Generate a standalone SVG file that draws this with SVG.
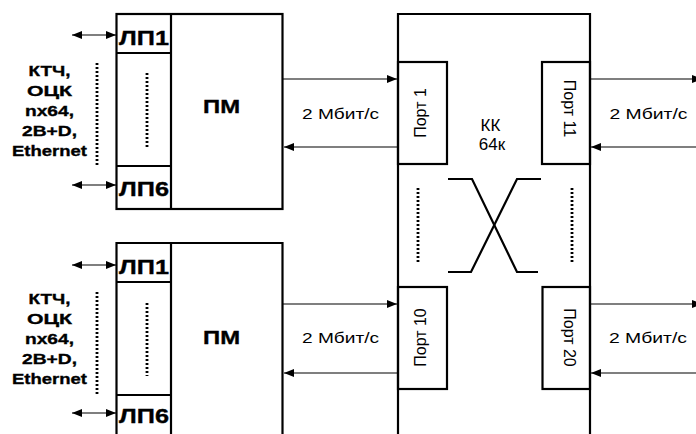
<svg xmlns="http://www.w3.org/2000/svg" width="696" height="434" viewBox="0 0 696 434">
<defs>
<marker id="ah" markerUnits="userSpaceOnUse" markerWidth="12" markerHeight="9" refX="10" refY="4" orient="auto-start-reverse">
<path d="M0,0 L10,4 L0,8 z" fill="#000"/>
</marker>
<style>
.box{fill:none;stroke:#000;stroke-width:2.2}
.ln{fill:none;stroke:#000;stroke-width:2.2}
.dot{fill:none;stroke:#000;stroke-width:2.8;stroke-dasharray:2 2}
.ar{fill:none;stroke:#000;stroke-width:1.2}
.cr{fill:none;stroke:#000;stroke-width:2.2}
.b{font-family:"Liberation Sans",Arial,sans-serif;font-weight:bold;fill:#000;stroke:#000;stroke-width:0.35}
.r{font-family:"Liberation Sans",Arial,sans-serif;fill:#000}
</style>
</defs>
<rect width="696" height="434" fill="#fff"/>

<g id="pm-top">
<rect class="box" x="116.5" y="14" width="166" height="195"/>
<line class="ln" x1="171" y1="14" x2="171" y2="209"/>
<line class="ln" x1="116.5" y1="53" x2="171" y2="53"/>
<line class="ln" x1="116.5" y1="166" x2="171" y2="166"/>
<line class="dot" x1="147" y1="73" x2="147" y2="149"/>
<text class="b" x="119" y="45" font-size="21" textLength="50" lengthAdjust="spacingAndGlyphs">ЛП1</text>
<text class="b" x="119" y="196" font-size="21" textLength="50" lengthAdjust="spacingAndGlyphs">ЛП6</text>
<text class="b" x="221.5" y="113" font-size="18" text-anchor="middle" textLength="37" lengthAdjust="spacingAndGlyphs">ПМ</text>
</g>

<g id="pm-bottom">
<path class="box" d="M116.5,440 V243 H282.5 V440"/>
<line class="ln" x1="171" y1="243" x2="171" y2="440"/>
<line class="ln" x1="116.5" y1="282" x2="171" y2="282"/>
<line class="ln" x1="116.5" y1="395" x2="171" y2="395"/>
<line class="dot" x1="147" y1="303" x2="147" y2="376"/>
<text class="b" x="119" y="274" font-size="21" textLength="50" lengthAdjust="spacingAndGlyphs">ЛП1</text>
<text class="b" x="119" y="423" font-size="21" textLength="50" lengthAdjust="spacingAndGlyphs">ЛП6</text>
<text class="b" x="221.5" y="344" font-size="18" text-anchor="middle" textLength="37" lengthAdjust="spacingAndGlyphs">ПМ</text>
</g>

<g id="interfaces-top">
<line class="dot" x1="97" y1="63" x2="97" y2="167"/>
<text class="b" x="49.5" y="76" font-size="15.5" text-anchor="middle" textLength="42" lengthAdjust="spacingAndGlyphs">КТЧ,</text>
<text class="b" x="49.5" y="96" font-size="15.5" text-anchor="middle" textLength="45" lengthAdjust="spacingAndGlyphs">ОЦК</text>
<text class="b" x="49.5" y="116" font-size="15.5" text-anchor="middle" textLength="49" lengthAdjust="spacingAndGlyphs">nx64,</text>
<text class="b" x="49.5" y="136" font-size="15.5" text-anchor="middle" textLength="55" lengthAdjust="spacingAndGlyphs">2B+D,</text>
<text class="b" x="49.5" y="156" font-size="15.5" text-anchor="middle" textLength="75" lengthAdjust="spacingAndGlyphs">Ethernet</text>
</g>

<g id="interfaces-bottom">
<line class="dot" x1="97" y1="292" x2="97" y2="396"/>
<text class="b" x="49.5" y="304" font-size="15.5" text-anchor="middle" textLength="42" lengthAdjust="spacingAndGlyphs">КТЧ,</text>
<text class="b" x="49.5" y="324" font-size="15.5" text-anchor="middle" textLength="45" lengthAdjust="spacingAndGlyphs">ОЦК</text>
<text class="b" x="49.5" y="344" font-size="15.5" text-anchor="middle" textLength="49" lengthAdjust="spacingAndGlyphs">nx64,</text>
<text class="b" x="49.5" y="364" font-size="15.5" text-anchor="middle" textLength="55" lengthAdjust="spacingAndGlyphs">2B+D,</text>
<text class="b" x="49.5" y="384" font-size="15.5" text-anchor="middle" textLength="75" lengthAdjust="spacingAndGlyphs">Ethernet</text>
</g>

<g id="kk">
<path class="box" d="M398,440 V14 H590 V440"/>
<line class="dot" x1="418" y1="188" x2="418" y2="263"/>
<line class="dot" x1="572" y1="188" x2="572" y2="263"/>
<path class="cr" d="M448,179 H472 L517,272 H538"/>
<path class="cr" d="M541,179 H517 L471,272 H448"/>
<text class="r" x="490.5" y="131" font-size="17" text-anchor="middle">КК</text>
<text class="r" x="492" y="150" font-size="17" text-anchor="middle">64к</text>
</g>

<g id="port1">
<rect class="box" x="398" y="62" width="49" height="102" fill="#fff"/>
<text class="r" font-size="16" text-anchor="middle" transform="translate(426,113) rotate(-90)">Порт 1</text>
</g>
<g id="port11">
<rect class="box" x="542" y="62" width="48" height="102" fill="#fff"/>
<text class="r" font-size="16" text-anchor="middle" transform="translate(564,108.5) rotate(90)">Порт 11</text>
</g>
<g id="port10">
<rect class="box" x="398" y="287" width="49" height="102" fill="#fff"/>
<text class="r" font-size="16" text-anchor="middle" transform="translate(426,337.5) rotate(-90)">Порт 10</text>
</g>
<g id="port20">
<rect class="box" x="542.5" y="287" width="47.5" height="102" fill="#fff"/>
<text class="r" font-size="16" text-anchor="middle" transform="translate(564,337.5) rotate(90)">Порт 20</text>
</g>

<g id="connectors">
<line class="ar" x1="72" y1="35" x2="116" y2="35" marker-start="url(#ah)" marker-end="url(#ah)"/>
<line class="ar" x1="72" y1="185" x2="116" y2="185" marker-start="url(#ah)" marker-end="url(#ah)"/>
<line class="ar" x1="72" y1="265" x2="116" y2="265" marker-start="url(#ah)" marker-end="url(#ah)"/>
<line class="ar" x1="72" y1="413" x2="116" y2="413" marker-start="url(#ah)" marker-end="url(#ah)"/>
<line class="ar" x1="283" y1="79" x2="397" y2="79" marker-end="url(#ah)"/>
<line class="ar" x1="397" y1="147" x2="284" y2="147" marker-end="url(#ah)"/>
<line class="ar" x1="283" y1="304" x2="397" y2="304" marker-end="url(#ah)"/>
<line class="ar" x1="397" y1="373" x2="284" y2="373" marker-end="url(#ah)"/>
<line class="ar" x1="591" y1="79" x2="702" y2="79" marker-end="url(#ah)"/>
<line class="ar" x1="700" y1="147" x2="591" y2="147" marker-end="url(#ah)"/>
<line class="ar" x1="591" y1="304" x2="702" y2="304" marker-end="url(#ah)"/>
<line class="ar" x1="700" y1="373" x2="591" y2="373" marker-end="url(#ah)"/>
<text class="r" x="340.5" y="119" font-size="15" text-anchor="middle" textLength="77" lengthAdjust="spacingAndGlyphs">2 Мбит/с</text>
<text class="r" x="340.5" y="343" font-size="15" text-anchor="middle" textLength="77" lengthAdjust="spacingAndGlyphs">2 Мбит/с</text>
<text class="r" x="648.5" y="119" font-size="15" text-anchor="middle" textLength="78" lengthAdjust="spacingAndGlyphs">2 Мбит/с</text>
<text class="r" x="648" y="343" font-size="15" text-anchor="middle" textLength="78" lengthAdjust="spacingAndGlyphs">2 Мбит/с</text>
</g>
</svg>
